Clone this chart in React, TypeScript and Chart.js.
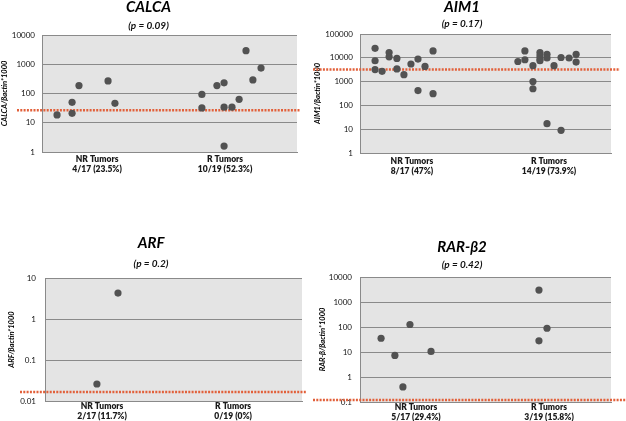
import React, { useEffect, useRef } from "react";
import { Chart, registerables } from "chart.js";

Chart.register(...registerables);

// ---------- DATA ----------
// x = horizontal (jitter) position in % of plot width, y = expression value
const calcaNRx = [5.9, 11.8, 11.8, 14.5, 25.9, 28.6];
const calcaNRy = [18.5, 50, 21, 186, 270, 46];
const calcaRx = [62.7, 62.7, 68.6, 71.4, 71.4, 71.4, 74.5, 77.3, 80, 82.7, 85.9];
const calcaRy = [93, 32, 186, 232, 34, 1.6, 34, 63, 2900, 290, 740];
const calcaThreshold = 27;
const calcaTicks = [1, 10, 100, 1000, 10000];
const calcaCats = [["NR Tumors", "4/17 (23.5%)"], ["R Tumors", "10/19 (52.3%)"]];
const calcaCatPos = [21.6, 71.8];

const aimNRx = [6.0, 6.0, 6.0, 8.8, 11.6, 11.6, 14.7, 14.7, 17.5, 20.3, 23.1, 23.1, 25.9, 29.1, 29.1];
const aimNRy = [25000, 7500, 3200, 2700, 16600, 11000, 9400, 3400, 1950, 5500, 8800, 420, 4350, 19500, 310];
const aimRx = [62.9, 65.7, 65.7, 68.9, 68.9, 68.9, 71.7, 71.7, 71.7, 71.7, 74.5, 74.5, 74.5, 77.3, 80.1, 80.1, 83.3, 86.1, 86.1];
const aimRy = [7000, 19500, 8300, 4650, 1000, 500, 16600, 12000, 8800, 7500, 14000, 9800, 17, 4650, 10300, 9, 9800, 14000, 6600];
const aimThreshold = 3200;
const aimTicks = [1, 10, 100, 1000, 10000, 100000];
const aimCats = [["NR Tumors", "8/17 (47%)"], ["R Tumors", "14/19 (73.9%)"]];
const aimCatPos = [20.7, 75.3];

const arfNRx = [20.2, 28.4];
const arfNRy = [0.026, 4.3];
const arfRx: number[] = [];
const arfRy: number[] = [];
const arfThreshold = 0.0166;
const arfTicks = [0.01, 0.1, 1, 10];
const arfCats = [["NR Tumors", "2/17 (11.7%)"], ["R Tumors", "0/19 (0%)"]];
const arfCatPos = [22.2, 73.2];

const rarNRx = [8.4, 13.9, 17.1, 19.9, 28.3];
const rarNRy = [35.5, 7.3, 0.4, 126, 10.5];
const rarRx = [71.3, 74.5, 71.3];
const rarRy = [3000, 89, 28];
const rarThreshold = 0.12;
const rarTicks = [0.1, 1, 10, 100, 1000, 10000];
const rarCats = [["NR Tumors", "5/17 (29.4%)"], ["R Tumors", "3/19 (15.8%)"]];
const rarCatPos = [22.3, 75.3];

// ---------- STYLE ----------
const FONT = "Lato, 'Open Sans', sans-serif";
const DOT = "#525252";
const GRID = "#8a8a8a";
const PLOT_BG = "#e4e4e4";
const THRESH = "#e2603a";

type Panel = {
  title: string;
  pval: string;
  yTitle: string;
  nrx: number[]; nry: number[]; rx: number[]; ry: number[];
  threshold: number;
  ticks: number[];
  cats: string[][];
  catPos: number[];
  // layout
  left: number; top: number; w: number; h: number;
  areaLeft: number; areaRight: number; areaBottom: number;
  tTop: number; sTop: number; sBottom: number;
  yTitlePad: number; yTickPad: number; xTickPad: number;
  lineLeft: number; lineRight: number;
};

const panels: Panel[] = [
  {
    title: "CALCA", pval: "(p = 0.09)", yTitle: "CALCA/βactin*1000",
    nrx: calcaNRx, nry: calcaNRy, rx: calcaRx, ry: calcaRy,
    threshold: calcaThreshold, ticks: calcaTicks, cats: calcaCats, catPos: calcaCatPos,
    left: 0, top: 0, w: 313, h: 185,
    areaLeft: 42, areaRight: 297, areaBottom: 152,
    tTop: 0, sTop: 6, sBottom: 4,
    yTitlePad: 0, yTickPad: 7, xTickPad: 2,
    lineLeft: 25, lineRight: 3,
  },
  {
    title: "AIM1", pval: "(p = 0.17)", yTitle: "AIM1/βactin*1000",
    nrx: aimNRx, nry: aimNRy, rx: aimRx, ry: aimRy,
    threshold: aimThreshold, ticks: aimTicks, cats: aimCats, catPos: aimCatPos,
    left: 313, top: 0, w: 313, h: 185,
    areaLeft: 47, areaRight: 298, areaBottom: 153,
    tTop: 0, sTop: 4, sBottom: 5,
    yTitlePad: 0, yTickPad: 7, xTickPad: 3,
    lineLeft: 47, lineRight: 9,
  },
  {
    title: "ARF", pval: "(p = 0.2)", yTitle: "ARF/βactin*1000",
    nrx: arfNRx, nry: arfNRy, rx: arfRx, ry: arfRy,
    threshold: arfThreshold, ticks: arfTicks, cats: arfCats, catPos: arfCatPos,
    left: 0, top: 220, w: 313, h: 201,
    areaLeft: 45, areaRight: 302, areaBottom: 181,
    tTop: 16, sTop: 8, sBottom: 9,
    yTitlePad: 7, yTickPad: 9, xTickPad: 0,
    lineLeft: 25, lineRight: 5,
  },
  {
    title: "RAR-β2", pval: "(p = 0.42)", yTitle: "RAR-β/βactin*1000",
    nrx: rarNRx, nry: rarNRy, rx: rarRx, ry: rarRy,
    threshold: rarThreshold, ticks: rarTicks, cats: rarCats, catPos: rarCatPos,
    left: 313, top: 220, w: 313, h: 201,
    areaLeft: 47, areaRight: 298, areaBottom: 182,
    tTop: 20, sTop: 5, sBottom: 7,
    yTitlePad: 5, yTickPad: 8, xTickPad: 0,
    lineLeft: 47, lineRight: 15,
  },
];

function fmt(v: number): string {
  if (v >= 1) return String(Math.round(v));
  return String(Number(v.toPrecision(3)));
}

function PanelChart({ p }: { p: Panel }) {
  const ref = useRef<HTMLCanvasElement | null>(null);
  useEffect(() => {
    if (!ref.current) return;
    const bgPlugin = {
      id: "plotBg",
      beforeDraw(chart: any) {
        const { ctx, chartArea: a } = chart;
        ctx.save();
        ctx.fillStyle = PLOT_BG;
        ctx.fillRect(a.left, a.top, a.right - a.left, a.bottom - a.top);
        ctx.restore();
      },
    };
    const threshPlugin = {
      id: "thresh",
      beforeDatasetsDraw(chart: any) {
        const { ctx, chartArea: a } = chart;
        const y = chart.scales.y.getPixelForValue(p.threshold);
        ctx.save();
        ctx.strokeStyle = THRESH;
        ctx.lineWidth = 2.5;
        ctx.setLineDash([2, 1.3]);
        ctx.beginPath();
        ctx.moveTo(a.left - p.lineLeft, y);
        ctx.lineTo(a.right + p.lineRight, y);
        ctx.stroke();
        ctx.restore();
      },
    };
    const mk = (xs: number[], ys: number[]) => xs.map((x, i) => ({ x, y: ys[i] }));
    const chart = new Chart(ref.current, {
      type: "scatter",
      data: {
        datasets: [
          { data: mk(p.nrx, p.nry), backgroundColor: DOT, borderWidth: 0, pointRadius: 3.6 },
          { data: mk(p.rx, p.ry), backgroundColor: DOT, borderWidth: 0, pointRadius: 3.6 },
        ],
      },
      options: {
        responsive: false,
        animation: false,
        devicePixelRatio: 1,
        layout: { padding: { left: 0, right: p.w - p.areaRight, top: 0, bottom: 0 } },
        plugins: {
          legend: { display: false },
          tooltip: { enabled: false },
          title: {
            display: true,
            text: p.title,
            color: "#000",
            font: { family: FONT, size: 15, weight: "bold", style: "italic", lineHeight: 1 },
            padding: { top: p.tTop, bottom: 0 },
          },
          subtitle: {
            display: true,
            text: p.pval,
            color: "#111",
            font: { family: FONT, size: 10, weight: "bold", style: "italic", lineHeight: 1 },
            padding: { top: p.sTop, bottom: p.sBottom },
          },
        },
        scales: {
          x: {
            type: "linear",
            min: 0,
            max: 100,
            afterBuildTicks: (s: any) => {
              s.ticks = p.catPos.map((v) => ({ value: v }));
            },
            afterFit: (s: any) => {
              s.height = p.h - p.areaBottom;
            },
            grid: { display: false, drawTicks: false },
            border: { display: true, color: GRID, width: 1 },
            ticks: {
              autoSkip: false,
              maxRotation: 0,
              padding: p.xTickPad,
              color: "#1a1a1a",
              font: { family: FONT, size: 8.5, weight: 800, lineHeight: 1.2 },
              callback: (v: any) => {
                const i = p.catPos.indexOf(Number(v));
                return i >= 0 ? p.cats[i] : "";
              },
            },
          },
          y: {
            type: "logarithmic",
            min: p.ticks[0],
            max: p.ticks[p.ticks.length - 1],
            afterBuildTicks: (s: any) => {
              s.ticks = p.ticks.map((v) => ({ value: v, major: false }));
            },
            afterFit: (s: any) => {
              s.width = p.areaLeft;
            },
            grid: { color: GRID, lineWidth: 1, drawTicks: false },
            border: { display: true, color: GRID, width: 1 },
            ticks: {
              padding: p.yTickPad,
              color: "#111",
              font: { family: FONT, size: 8 },
              callback: (v: any) => fmt(Number(v)),
            },
            title: {
              display: true,
              text: p.yTitle,
              color: "#000",
              padding: { top: p.yTitlePad, bottom: 0 },
              font: { family: FONT, size: 7.5, weight: "bold", style: "italic" },
            },
          },
        },
      },
      plugins: [bgPlugin, threshPlugin],
    } as any);
    return () => chart.destroy();
  }, [p]);
  return (
    <canvas
      ref={ref}
      width={p.w}
      height={p.h}
      style={{ position: "absolute", left: p.left, top: p.top, width: p.w, height: p.h }}
    />
  );
}

export default function App() {
  return (
    <div style={{ position: "absolute", left: 0, top: 0, width: 626, height: 421, background: "#fff", overflow: "hidden" }}>
      {panels.map((p) => (
        <PanelChart key={p.title} p={p} />
      ))}
    </div>
  );
}
